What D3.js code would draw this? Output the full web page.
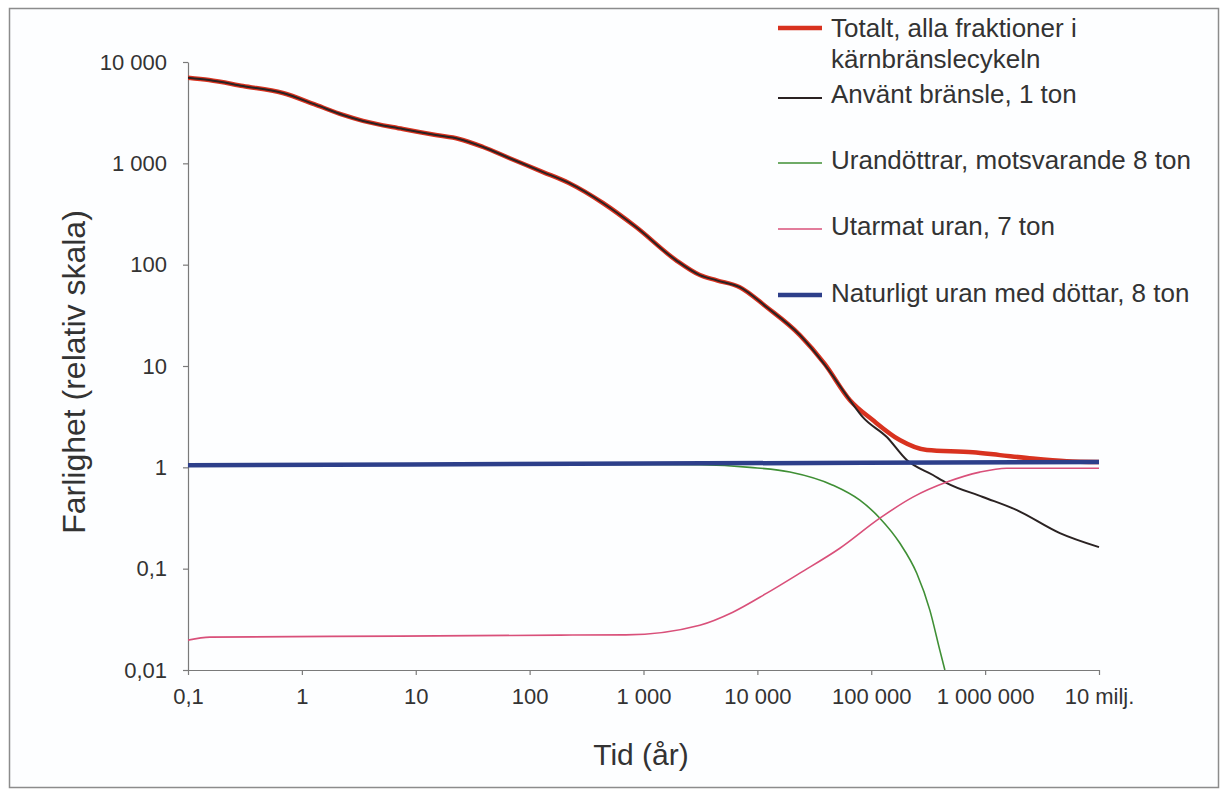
<!DOCTYPE html>
<html>
<head>
<meta charset="utf-8">
<script src="https://cdn.jsdelivr.net/npm/d3@7/dist/d3.min.js"></script>
<style>
  html, body { margin: 0; padding: 0; background: #ffffff; }
  svg { display: block; }
  text { font-family: "Liberation Sans", Arial, Helvetica, sans-serif; fill: #333; }
</style>
</head>
<body>
<svg id="chart" width="1224" height="791"></svg>
<script>
// ---- Data ----
const timeTicks = [0.1, 1, 10, 100, 1e3, 1e4, 1e5, 1e6, 1e7];
const timeTickLabels = ["0,1", "1", "10", "100", "1 000", "10 000", "100 000", "1 000 000", "10 milj."];
const hazardTicks = [0.01, 0.1, 1, 10, 100, 1000, 10000];
const hazardTickLabels = ["0,01", "0,1", "1", "10", "100", "1 000", "10 000"];

const seriesNames = [
  ["Totalt, alla fraktioner i", "kärnbränslecykeln"],
  ["Använt bränsle, 1 ton"],
  ["Urandöttrar, motsvarande 8 ton"],
  ["Utarmat uran, 7 ton"],
  ["Naturligt uran med döttar, 8 ton"]
];

const totalYears  = [0.1, 0.153, 0.304, 0.68, 1.33, 2.3, 3.44, 7.7, 15, 24, 39, 66, 131, 221, 440, 860, 1925, 3125, 4400, 7000, 12100, 23600, 39000, 65000, 103000, 178000, 308000, 780000, 1.35e6, 2.62e6, 5.2e6, 1e7];
const totalValues = [7000, 6640, 5800, 4940, 3770, 3000, 2620, 2180, 1900, 1740, 1450, 1130, 820, 640, 406, 235, 111, 79, 70, 60, 38, 20.2, 10.5, 4.6, 2.93, 1.86, 1.48, 1.41, 1.32, 1.22, 1.15, 1.13];

const spentYears  = [0.1, 0.153, 0.304, 0.68, 1.33, 2.3, 3.44, 7.7, 15, 24, 39, 66, 131, 221, 440, 860, 1925, 3125, 4400, 7000, 12100, 23600, 39000, 65000, 84300, 137000, 205000, 348000, 461000, 955000, 1.9e6, 4.53e6, 1e7];
const spentValues = [7000, 6640, 5800, 4940, 3770, 3000, 2620, 2180, 1900, 1740, 1450, 1130, 820, 640, 406, 235, 111, 79, 70, 60, 38, 20.2, 10.3, 4.6, 3.13, 1.99, 1.18, 0.84, 0.70, 0.51, 0.378, 0.224, 0.163];

const daughtersYears  = [0.1, 1000, 3125, 8600, 19300, 46000, 79400, 119000, 178000, 251000, 327000, 400000, 443000];
const daughtersValues = [1.05, 1.07, 1.06, 1.0, 0.90, 0.667, 0.474, 0.315, 0.179, 0.090, 0.039, 0.0157, 0.01];

const depletedYears  = [0.1, 0.156, 7.3, 185, 700, 3125, 6090, 12100, 23600, 53000, 119000, 232000, 461000, 898000, 1.55e6, 1e7];
const depletedValues = [0.0197, 0.0211, 0.0216, 0.0221, 0.0222, 0.0277, 0.0372, 0.0573, 0.0903, 0.159, 0.315, 0.508, 0.715, 0.897, 0.98, 0.98];

const naturalYears  = [0.1, 1000, 1e7];
const naturalValues = [1.05, 1.09, 1.13];

// ---- Layout ----
const svg = d3.select("#chart");
const x = d3.scaleLog().domain([0.1, 1e7]).range([188, 1099]);
const y = d3.scaleLog().domain([0.01, 10000]).range([670, 62]);

// outer frame
svg.append("rect")
  .attr("x", 9.5).attr("y", 8.5).attr("width", 1209).attr("height", 779)
  .attr("fill", "#fdfeff").attr("stroke", "#8c8c8c").attr("stroke-width", 1.5);

// clip
svg.append("clipPath").attr("id", "plotclip")
  .append("rect").attr("x", 188).attr("y", 55).attr("width", 920).attr("height", 615);

// axes
const axisColor = "#7a7a7a";
const xAxis = svg.append("g").attr("transform", "translate(0,670)")
  .call(d3.axisBottom(x).tickValues(timeTicks)
    .tickFormat((d, i) => timeTickLabels[i]).tickSize(5).tickPadding(13).tickSizeOuter(0));
const yAxis = svg.append("g").attr("transform", "translate(188,0)")
  .call(d3.axisLeft(y).tickValues(hazardTicks)
    .tickFormat((d, i) => hazardTickLabels[i]).tickSize(5).tickPadding(16).tickSizeOuter(0));
[xAxis, yAxis].forEach(g => {
  g.select(".domain").attr("stroke", axisColor).attr("stroke-width", 1.2);
  g.selectAll(".tick line").attr("stroke", axisColor).attr("stroke-width", 1.2);
  g.selectAll(".tick text").attr("fill", "#333").style("font-size", "22px")
    .style("font-family", "'Liberation Sans', Arial, sans-serif");
});

// axis titles
svg.append("text")
  .attr("transform", "translate(85,372) rotate(-90)")
  .attr("text-anchor", "middle")
  .style("font-size", "32px")
  .text("Farlighet (relativ skala)");
svg.append("text")
  .attr("x", 641).attr("y", 765)
  .attr("text-anchor", "middle")
  .style("font-size", "30px")
  .text("Tid (år)");

// lines
const line = d3.line()
  .x(d => x(d[0])).y(d => y(d[1]))
  .curve(d3.curveMonotoneX);
const zip = (a, b) => a.map((t, i) => [t, b[i]]);

const series = [
  { data: zip(totalYears, totalValues), color: "#d8321f", width: 4.5 },
  { data: zip(spentYears, spentValues), color: "#2a2222", width: 2 },
  { data: zip(daughtersYears, daughtersValues), color: "#3f8f35", width: 1.6 },
  { data: zip(depletedYears, depletedValues), color: "#d9507a", width: 1.6 },
  { data: zip(naturalYears, naturalValues), color: "#2d3f8a", width: 4.5 }
];

const plot = svg.append("g").attr("clip-path", "url(#plotclip)");
series.forEach(s => {
  plot.append("path")
    .attr("d", line(s.data))
    .attr("fill", "none")
    .attr("stroke", s.color)
    .attr("stroke-width", s.width)
    .attr("stroke-linejoin", "round")
    .attr("stroke-linecap", "butt");
});

// legend
const legendRows = [28, 98, 163, 229, 295];
const legendBaselines = [37, 103, 169, 235, 302];
const lg = svg.append("g");
series.forEach((s, i) => {
  lg.append("line")
    .attr("x1", 778).attr("x2", 822)
    .attr("y1", legendRows[i]).attr("y2", legendRows[i])
    .attr("stroke", s.color).attr("stroke-width", s.width);
  seriesNames[i].forEach((txt, j) => {
    lg.append("text")
      .attr("x", 831).attr("y", legendBaselines[i] + j * 31)
      .style("font-size", "26px")
      .text(txt);
  });
});
</script>
</body>
</html>
